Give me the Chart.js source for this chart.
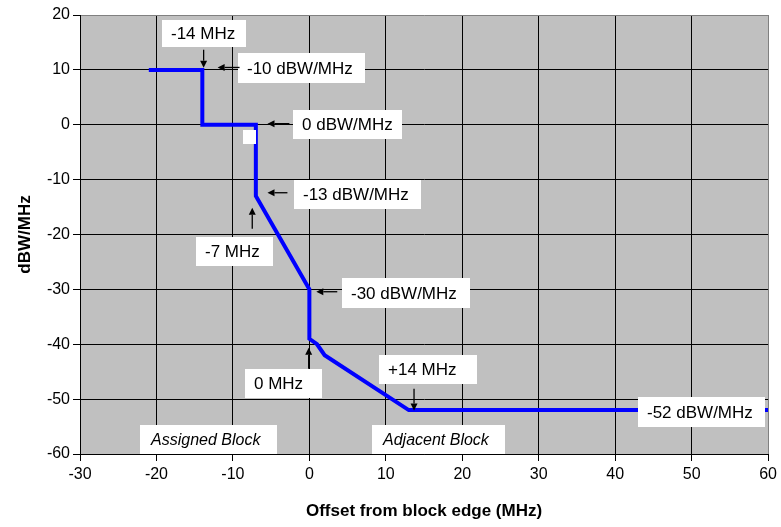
<!DOCTYPE html>
<html>
<head>
<meta charset="utf-8">
<title>Máscara de emisión</title>
<script src="https://cdn.jsdelivr.net/npm/chart.js@4.4.1/dist/chart.umd.min.js"></script>
<style>
  html, body { margin: 0; padding: 0; background: #fff; }
  canvas { display: block; }
</style>
</head>
<body>
<canvas id="grafico" width="781" height="527"></canvas>
<script>
// Datos de la máscara: desplazamiento (MHz) y nivel (dBW/MHz)
const offsetMHz = [-21, -14, -14, -7, -7, 0, 0, 1, 2, 13, 60];
const nivelDbw = [10, 10, 0, 0, -13, -30, -39, -40, -42, -52, -52];

const xTicks = [-30, -20, -10, 0, 10, 20, 30, 40, 50, 60];
const yTicks = [20, 10, 0, -10, -20, -30, -40, -50, -60];

const fuente = "'Liberation Sans', Arial, sans-serif";

// Recuadros de texto: centro en unidades del gráfico, tamaño en px
const etiquetas = [
    { text: "-14 MHz", x: -13.83, y: 16.67, w: 84, h: 27 },
    { text: "-10 dBW/MHz", x: -0.98, y: 10.39, w: 127, h: 30 },
    { text: "0 dBW/MHz", x: 5.02, y: 0, w: 109, h: 29 },
    { text: "", x: -7.89, y: -2.19, w: 13, h: 14 },
    { text: "-13 dBW/MHz", x: 6.33, y: -12.66, w: 127, h: 29 },
    { text: "-7 MHz", x: -9.85, y: -23.05, w: 77, h: 29 },
    { text: "-30 dBW/MHz", x: 12.65, y: -30.6, w: 128, h: 30 },
    { text: "0 MHz", x: -3.33, y: -47.1, w: 77, h: 29 },
    { text: "+14 MHz", x: 15.52, y: -44.55, w: 98, h: 29 },
    { text: "-52 dBW/MHz", x: 51.3, y: -52.3, w: 127, h: 30 },
    { text: "Assigned Block", x: -13.24, y: -57.3, w: 137, h: 29, italic: true },
    { text: "Adjacent Block", x: 16.9, y: -57.3, w: 133, h: 29, italic: true }
];

// Flechas: desde (x1,y1) hasta la punta (x2,y2)
const flechas = [
    { x1: -13.83, y1: 13.67, x2: -13.83, y2: 10.4 },
    { x1: -9.13, y1: 10.44, x2: -12.0, y2: 10.44 },
    { x1: -2.61, y1: 0.2, x2: -5.48, y2: 0.2 },
    { x1: -2.87, y1: -12.39, x2: -5.48, y2: -12.39 },
    { x1: -7.47, y1: -18.95, x2: -7.47, y2: -15.13 },
    { x1: 3.65, y1: -30.43, x2: 0.91, y2: -30.43 },
    { x1: -0.09, y1: -44.46, x2: -0.09, y2: -40.64 },
    { x1: 13.69, y1: -48.11, x2: 13.69, y2: -52.06 }
];

// Fondo gris del área de trazado
const fondoPlugin = {
    id: "fondo",
    beforeDraw(chart) {
        const { ctx, chartArea: a } = chart;
        ctx.save();
        ctx.fillStyle = "#c0c0c0";
        ctx.fillRect(a.left, a.top, a.right - a.left, a.bottom - a.top);
        ctx.restore();
    }
};

// Recuadros blancos con texto y flechas
const notasPlugin = {
    id: "notas",
    afterDatasetsDraw(chart) {
        const { ctx, scales } = chart;
        const sx = scales.x, sy = scales.y;
        ctx.save();
        etiquetas.forEach(e => {
            const cx = sx.getPixelForValue(e.x);
            const cy = sy.getPixelForValue(e.y);
            const left = Math.round(cx - e.w / 2);
            const top = Math.round(cy - e.h / 2);
            ctx.fillStyle = "#ffffff";
            ctx.fillRect(left, top, e.w, e.h);
            if (e.text) {
                ctx.fillStyle = "#000000";
                ctx.font = (e.italic ? "italic 16px " : "17px ") + fuente;
                ctx.textAlign = "left";
                ctx.textBaseline = "middle";
                ctx.fillText(e.text, left + (e.italic ? 11 : 9), top + e.h / 2 + 1);
            }
        });
        ctx.strokeStyle = "#000000";
        ctx.fillStyle = "#000000";
        ctx.lineWidth = 1.3;
        flechas.forEach(f => {
            const x1 = sx.getPixelForValue(f.x1), y1 = sy.getPixelForValue(f.y1);
            const x2 = sx.getPixelForValue(f.x2), y2 = sy.getPixelForValue(f.y2);
            const ang = Math.atan2(y2 - y1, x2 - x1);
            const largo = 7, ancho = 3.5;
            const bx = x2 - largo * Math.cos(ang), by = y2 - largo * Math.sin(ang);
            ctx.beginPath();
            ctx.moveTo(x1, y1);
            ctx.lineTo(bx, by);
            ctx.stroke();
            ctx.beginPath();
            ctx.moveTo(x2, y2);
            ctx.lineTo(bx + ancho * Math.sin(ang), by - ancho * Math.cos(ang));
            ctx.lineTo(bx - ancho * Math.sin(ang), by + ancho * Math.cos(ang));
            ctx.closePath();
            ctx.fill();
        });
        ctx.restore();
    }
};

const ctx = document.getElementById("grafico").getContext("2d");
new Chart(ctx, {
    type: "scatter",
    data: {
        datasets: [{
            data: offsetMHz.map((x, i) => ({ x: x, y: nivelDbw[i] })),
            showLine: true,
            borderColor: "#0000ff",
            borderWidth: 4,
            pointRadius: 0,
            tension: 0
        }]
    },
    options: {
        responsive: false,
        animation: false,
        layout: { padding: { top: 15, right: 11, left: 0, bottom: 0 } },
        plugins: {
            legend: { display: false },
            tooltip: { enabled: false }
        },
        scales: {
            x: {
                type: "linear",
                min: -30,
                max: 60,
                afterBuildTicks: s => { s.ticks = xTicks.map(v => ({ value: v })); },
                afterFit: s => { s.height = 73; },
                grid: {
                    color: c => (c.tick && c.tick.value === 60) ? "#808080" : "#000000",
                    tickColor: "#000000",
                    tickLength: 7,
                    lineWidth: 1
                },
                border: { color: "#000000", width: 1 },
                ticks: {
                    color: "#000000",
                    padding: 4,
                    maxRotation: 0,
                    font: { family: fuente, size: 16 }
                },
                title: {
                    display: true,
                    text: "Offset from block edge (MHz)",
                    color: "#000000",
                    padding: { top: 0, bottom: 5 },
                    font: { family: fuente, size: 17, weight: "bold" }
                }
            },
            y: {
                type: "linear",
                min: -60,
                max: 20,
                afterBuildTicks: s => { s.ticks = yTicks.map(v => ({ value: v })); },
                afterFit: s => { s.width = 80; },
                grid: {
                    color: c => (c.tick && c.tick.value === 20) ? "#808080" : "#000000",
                    tickColor: "#000000",
                    tickLength: 7,
                    lineWidth: 1
                },
                border: { color: "#000000", width: 1 },
                ticks: {
                    color: "#000000",
                    padding: 3,
                    font: { family: fuente, size: 16 }
                },
                title: {
                    display: true,
                    text: "dBW/MHz",
                    color: "#000000",
                    padding: { top: 15, bottom: 0 },
                    font: { family: fuente, size: 17, weight: "bold" }
                }
            }
        }
    },
    plugins: [fondoPlugin, notasPlugin]
});
</script>
</body>
</html>
